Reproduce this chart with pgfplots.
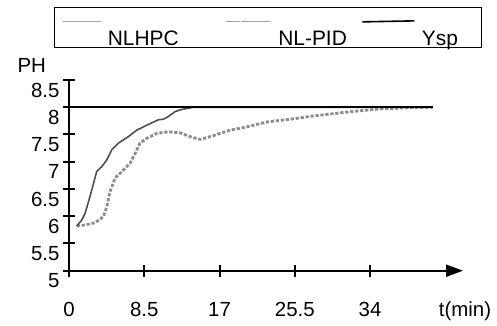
\documentclass[border=0pt]{standalone}
\usepackage{fontspec}
\setmainfont{Liberation Sans}
\usepackage{pgfplots}
\pgfplotsset{compat=1.18}
\usetikzlibrary{arrows.meta}
\definecolor{hpc}{HTML}{505050}
\definecolor{pid}{HTML}{8C8C8C}
\definecolor{legl}{HTML}{A0A0A0}
\newcommand{\bigf}{\fontsize{20.5}{24}\selectfont}
\newcommand{\legf}{\fontsize{21}{24}\selectfont}
\pgfplotsset{
  legA/.style={legend image code/.code={\path[draw=none] (0bp,0bp) rectangle (1bp,31.5bp); \draw[##1] (0bp,17bp) -- (38bp,17bp);}},
  legB/.style={legend image code/.code={\path[draw=none] (0bp,0bp) rectangle (1bp,31.5bp); \draw[##1] (0bp,17bp) -- (45bp,17bp);}},
  legC/.style={legend image code/.code={\path[draw=none] (0bp,0bp) rectangle (1bp,31.5bp); \draw[##1] (0bp,17bp) -- (52bp,18bp);}},
}
\begin{document}
\begin{tikzpicture}
\useasboundingbox (-69bp,-55.3bp) rectangle (428bp,270.7bp);
\begin{axis}[
  scale only axis,
  width=394bp, height=190.7bp,
  xmin=0, xmax=44.5, ymin=5, ymax=8.5,
  axis lines=left,
  axis line style={line width=2bp},
  x axis line style={-{Triangle[length=17bp,width=12bp]}},
  y axis line style={-},
  xtick={0,8.5,17,25.5,34},
  xticklabels={0,8.5,17,25.5,34},
  ytick={5,5.5,6,6.5,7,7.5,8,8.5},
  yticklabels={5,5.5,6,6.5,7,7.5,8,8.5},
  tick align=center,
  major tick length=12bp,
  tick style={line width=2bp, black},
  tick label style={font=\bigf},
  /pgf/number format/assume math mode=true,
  xticklabel style={anchor=center, yshift=-33bp},
  yticklabel style={anchor=east, yshift=-10bp},
  clip=false,
  legend columns=3,
  legend style={at={(axis description cs:-0.0381,1.383)}, anchor=north west,
    draw=black, line width=0.8bp, inner xsep=7.7bp, inner ysep=0bp,
    nodes={inner ysep=0bp, inner xsep=6.7bp},
    /tikz/column 2/.append style={column sep=40bp},
    /tikz/column 4/.append style={column sep=8bp},
    /tikz/column 6/.append style={text width=45bp}},
]
\addlegendimage{legA, legl, line width=1bp}
\addlegendentry{\legf NLHPC}
\addlegendimage{legB, legl, line width=1.2bp, dash pattern=on 14bp off 0.6bp}
\addlegendentry{\legf NL-PID}
\addlegendimage{legC, black, line width=1.6bp}
\addlegendentry{\legf Ysp}

% NL-PID
\addplot[forget plot, pid, line width=2.8bp, dash pattern=on 3.2bp off 1.8bp] coordinates {
(0.87,5.82) (1.81,5.84) (2.94,5.88) (3.88,5.99) (4.26,6.17) (4.63,6.45) (5.2,6.70)
(5.96,6.82) (6.89,6.97) (7.46,7.15) (8.02,7.34) (8.78,7.43) (9.91,7.52) (11.23,7.55)
(12.55,7.53) (13.68,7.46) (14.81,7.41) (15.94,7.46) (18.2,7.58) (20.09,7.64)
(22.35,7.73) (24.98,7.78) (27.61,7.84) (30.26,7.89) (32.52,7.93) (35.15,7.97)
(38.2,7.99) (41.1,8.0)
};
% NLHPC
\addplot[forget plot, hpc, line width=1.6bp] coordinates {
(0.87,5.82) (1.44,5.93) (1.81,6.05) (2.37,6.36) (3.13,6.82) (3.70,6.91) (4.26,7.03)
(4.83,7.22) (5.57,7.34) (6.70,7.46) (7.65,7.58) (8.78,7.67) (10.09,7.77) (10.66,7.78)
(11.23,7.83) (11.98,7.92) (12.74,7.96) (13.48,7.98) (14.05,8.0) (41.1,8.0)
};
% Ysp
\addplot[forget plot, black, line width=2bp] coordinates {(0,8) (41.1,8)};

\node at (axis description cs:-0.0947,1.0787) {\bigf PH};
\node at (axis description cs:1.005,-0.211) {\bigf t(min)};
\end{axis}
\end{tikzpicture}
\end{document}
